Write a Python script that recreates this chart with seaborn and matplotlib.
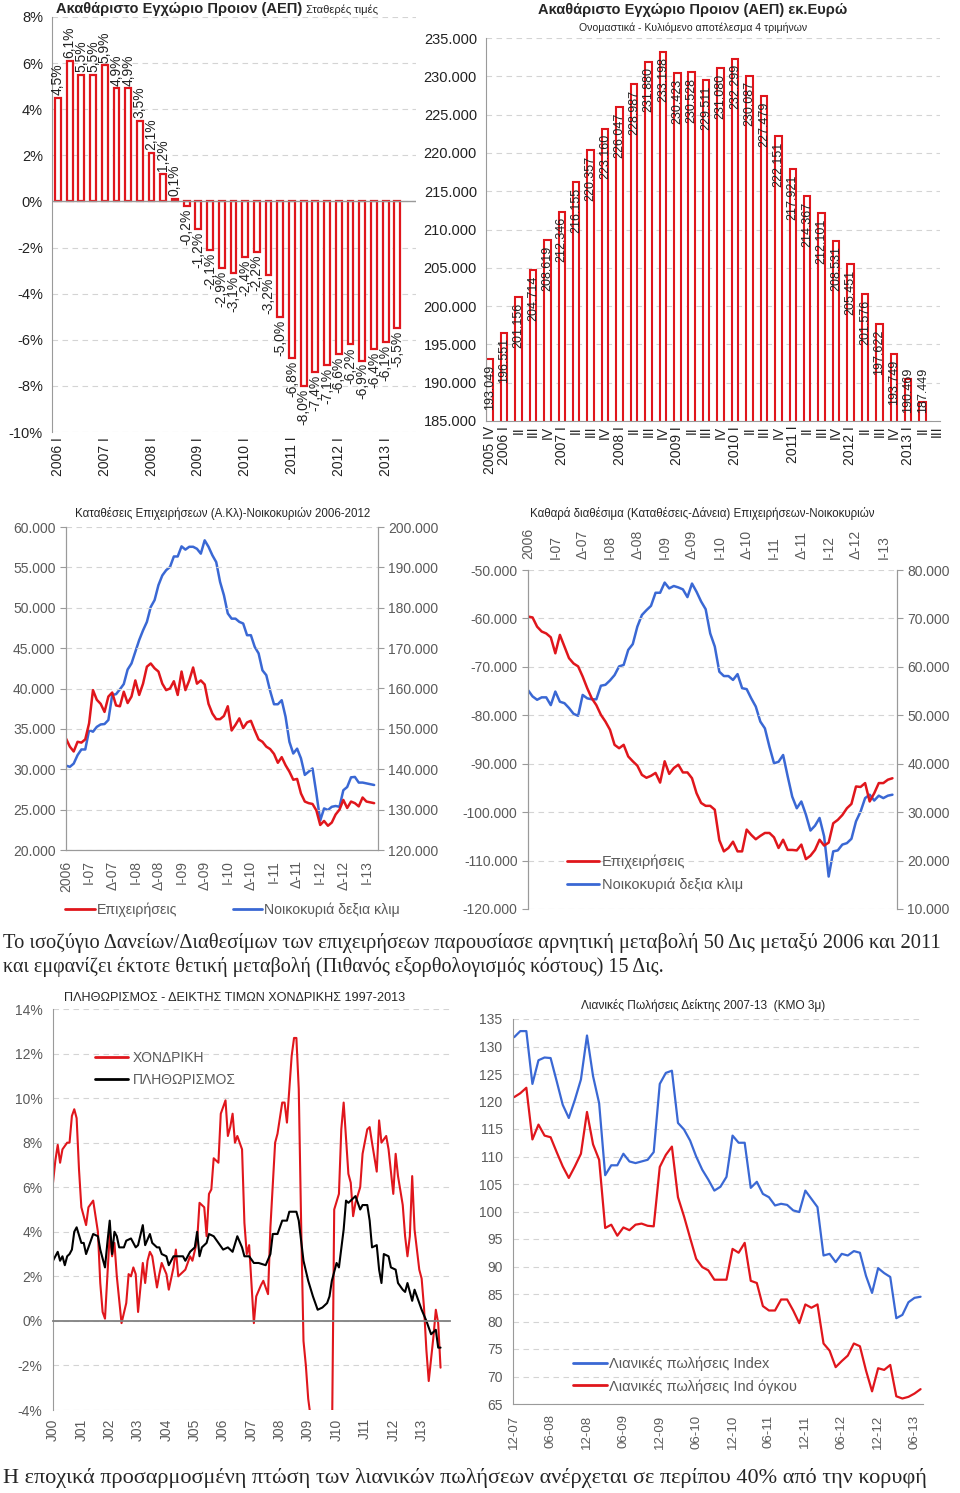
import numpy as np
import pandas as pd
import matplotlib
matplotlib.use('Agg')
import matplotlib.pyplot as plt
from matplotlib.ticker import FuncFormatter
from matplotlib.lines import Line2D
import seaborn as sns

# --- top left: real GDP growth (% y/y), 2006 I - 2013 II
gdp_growth = [4.5, 6.1, 5.5, 5.5, 5.9, 4.9, 4.9, 3.5, 2.1, 1.2, 0.1, -0.2, -1.2, -2.1, -2.9,
              -3.1, -2.4, -2.2, -3.2, -5.0, -6.8, -8.0, -7.4, -7.1, -6.6, -6.2, -6.9, -6.4,
              -6.1, -5.5]
gdp_years = ['2006 I', '2007 I', '2008 I', '2009 I', '2010 I', '2011 I', '2012 I', '2013 I']

# --- top right: nominal GDP, rolling 4 quarters (mn euro), 2005 IV - 2013 II
gdp_nominal = [193049, 196551, 201156, 204714, 208619, 212346, 216155, 220357, 223160, 226047,
               228987, 231880, 233198, 230423, 230528, 229511, 231080, 232299, 230087, 227479,
               222151, 217921, 214367, 212101, 208531, 205451, 201576, 197622, 193749, 190469,
               187449]
nominal_cats = ['2005 IV',
                '2006 I', 'II', 'III', 'IV', '2007 I', 'II', 'III', 'IV',
                '2008 I', 'II', 'III', 'IV', '2009 I', 'II', 'III', 'IV',
                '2010 I', 'II', 'III', 'IV', '2011 I', 'II', 'III', 'IV',
                '2012 I', 'II', 'III', 'IV', '2013 I', 'II', 'III']

# --- middle: deposits / net deposits, monthly from Dec 2006 (thousands mn euro)
dep_firms = [33.8, 32.8, 32.2, 33.4, 33.3, 33.7, 35.7, 39.8, 38.6, 38.1, 37.1, 39.0, 39.5, 37.9,
             37.8, 39.6, 38.2, 39.0, 41.0, 39.2, 40.6, 42.7, 43.1, 42.5, 42.1, 40.6, 39.8, 40.0,
             40.9, 39.2, 42.1, 39.8, 41.0, 42.6, 40.6, 41.0, 40.5, 38.1, 36.9, 36.2, 36.2, 36.6,
             37.8, 34.8, 35.5, 36.3, 35.1, 35.8, 36.0, 34.8, 33.7, 33.4, 32.8, 32.5, 31.9, 30.8,
             31.5, 30.5, 29.7, 28.7, 28.8, 27.0, 26.0, 25.8, 25.7, 24.9, 23.1, 23.6, 23.0, 23.4,
             24.4, 25.0, 26.2, 25.2, 26.0, 25.8, 25.4, 26.5, 26.0, 25.9, 25.8]
dep_households = [140.9, 140.6, 141.4, 143.5, 144.9, 144.9, 149.7, 149.3, 150.5, 151.1, 151.2,
                  152.2, 158.4, 158.6, 159.8, 161.1, 164.7, 166.2, 169.1, 172.0, 174.4, 176.5,
                  180.2, 181.9, 185.6, 188.0, 189.3, 190.1, 192.7, 192.7, 195.2, 194.4, 195.1,
                  195.1, 194.6, 193.4, 196.7, 195.1, 193.0, 191.3, 186.4, 183.1, 178.6, 177.3,
                  177.3, 176.5, 176.1, 173.2, 173.2, 170.3, 168.7, 164.5, 163.3, 159.4, 156.1,
                  156.1, 157.1, 153.0, 146.8, 143.9, 145.1, 142.7, 138.6, 139.4, 140.2, 134.0,
                  127.3, 130.3, 129.9, 130.7, 130.9, 130.7, 134.8, 135.6, 138.0, 138.1, 136.7,
                  136.7, 136.5, 136.3, 136.1]
net_firms = [-59.6, -59.8, -61.7, -62.7, -63.1, -63.9, -67.2, -63.4, -65.8, -68.2, -69.3, -69.9,
             -72.0, -74.4, -76.5, -77.9, -79.9, -81.3, -83.0, -86.1, -86.8, -86.1, -88.5, -89.5,
             -90.4, -92.3, -92.9, -92.5, -91.9, -93.9, -89.5, -92.1, -90.9, -90.2, -91.8, -91.8,
             -93.0, -96.1, -98.1, -98.7, -98.7, -99.5, -105.8, -108.1, -107.4, -106.1, -108.1,
             -108.1, -103.6, -104.7, -105.6, -104.9, -104.3, -104.3, -105.2, -107.4, -105.7,
             -107.8, -107.8, -107.9, -106.7, -109.7, -109.0, -107.8, -105.7, -106.9, -106.3,
             -102.3, -101.6, -100.6, -99.2, -98.3, -94.7, -94.8, -94.0, -97.8, -96.1, -94.0,
             -94.0, -93.3, -93.0]
net_households = [55.2, 53.9, 53.2, 53.7, 53.7, 52.1, 54.9, 52.8, 52.5, 51.5, 50.3, 49.9, 54.2,
                  53.5, 53.3, 53.3, 56.1, 56.3, 57.2, 58.3, 60.1, 60.4, 63.5, 64.7, 68.3, 70.7,
                  71.7, 72.6, 75.3, 75.3, 77.4, 76.2, 76.7, 76.4, 76.0, 74.4, 77.2, 75.5, 73.5,
                  71.9, 66.9, 64.2, 59.0, 58.1, 58.1, 57.3, 58.5, 55.6, 55.4, 53.5, 51.8, 48.7,
                  47.3, 43.5, 40.1, 40.4, 41.8, 37.4, 33.2, 30.8, 32.2, 29.5, 26.2, 27.2, 28.8,
                  25.0, 16.7, 21.9, 22.1, 23.3, 23.6, 24.5, 28.1, 30.1, 32.9, 33.6, 32.4, 33.4,
                  32.9, 33.4, 33.6]
half_year_labels = ['2006', 'Ι-07', 'Δ-07', 'Ι-08', 'Δ-08', 'Ι-09', 'Δ-09', 'Ι-10', 'Δ-10',
                    'Ι-11', 'Δ-11', 'Ι-12', 'Δ-12', 'Ι-13']

# --- bottom left: inflation vs wholesale prices (months since Jan 2000, %)
whole_month = [0, 1, 2, 3, 4, 6, 7, 8, 9, 10, 11, 12, 14, 15, 17, 19, 20, 21, 22, 24, 25, 26, 27,
               29, 31, 32, 33, 34, 35, 36, 38, 39, 40, 41, 42, 44, 45, 46, 48, 49, 51, 52, 53, 55,
               56, 58, 59, 61, 62, 64, 65, 66, 67, 68, 70, 71, 73, 74, 75, 76, 77, 78, 80, 81, 82,
               83, 85, 86, 88, 89, 91, 92, 94, 95, 97, 98, 99, 100, 101, 102, 103, 104, 105, 106,
               107, 108, 109, 111, 114, 116, 118, 119, 121, 122, 123, 125, 126, 127, 128, 130,
               131, 133, 134, 135, 137, 138, 139, 141, 142, 144, 145, 146, 148, 149, 150, 151,
               152, 153, 155, 156, 157, 158, 159, 161, 162, 163, 164]
whole_val = [6.2, 7.2, 7.9, 7.1, 7.7, 8.0, 8.0, 9.2, 9.5, 9.1, 6.8, 5.1, 4.3, 5.1, 5.4, 4.0, 1.7,
             0.4, 0.1, 3.9, 2.9, 3.5, 2.0, -0.1, 0.8, 2.1, 2.0, 2.4, 2.1, 0.4, 2.6, 1.7, 2.7, 3.1,
             2.9, 1.5, 2.1, 2.6, 2.1, 1.4, 2.4, 3.2, 2.0, 2.2, 2.3, 2.9, 2.7, 3.6, 5.3, 5.1, 3.8,
             5.7, 5.9, 7.3, 7.1, 9.3, 9.9, 8.3, 8.7, 9.3, 8.0, 8.3, 7.7, 4.4, 3.0, 3.4, -0.1, 1.1,
             1.6, 1.8, 1.2, 4.2, 8.0, 8.4, 9.8, 9.8, 8.9, 10.4, 11.9, 12.7, 12.7, 10.4, 4.4, -0.9,
             -2.0, -3.5, -4.3, -7.0, -8.0, -7.0, -6.0, 5.0, 5.7, 8.6, 9.8, 6.6, 6.2, 4.7, 5.3,
             6.0, 7.5, 8.6, 8.7, 8.0, 6.7, 9.0, 8.0, 8.3, 7.7, 5.7, 7.5, 6.5, 5.2, 3.8, 2.9, 3.8,
             6.5, 4.1, 2.3, 1.9, 0.6, -1.3, -2.7, -0.7, 0.5, -0.1, -2.1]
cpi_month = [0, 1, 2, 3, 4, 5, 6, 7, 8, 9, 10, 12, 13, 14, 16, 17, 19, 20, 22, 23, 24, 25, 26, 27,
             28, 30, 31, 33, 35, 36, 38, 39, 41, 42, 44, 45, 46, 48, 49, 51, 53, 55, 56, 58, 60,
             61, 62, 63, 65, 66, 68, 70, 72, 74, 76, 78, 80, 81, 83, 85, 87, 90, 92, 93, 95, 97,
             99, 100, 103, 104, 106, 108, 110, 112, 114, 116, 117, 118, 120, 121, 123, 124, 125,
             127, 128, 130, 131, 133, 134, 135, 137, 138, 139, 140, 142, 143, 145, 146, 148, 149,
             150, 152, 153, 155, 156, 158, 159, 160, 162, 163, 164]
cpi_val = [2.7, 2.9, 3.1, 2.7, 2.9, 2.5, 2.9, 3.0, 3.2, 4.0, 4.2, 3.5, 3.5, 3.0, 3.6, 3.9, 3.8,
           3.2, 2.4, 3.5, 4.5, 3.0, 4.0, 3.8, 3.3, 3.3, 3.6, 3.7, 3.3, 3.4, 4.3, 3.4, 3.9, 3.5,
           3.3, 3.3, 3.0, 2.9, 2.5, 2.9, 2.9, 2.9, 2.7, 3.1, 3.3, 4.0, 2.9, 3.3, 3.5, 3.9, 3.8,
           3.5, 3.2, 3.3, 3.1, 3.8, 3.3, 2.9, 2.9, 2.6, 2.6, 2.5, 3.0, 3.9, 3.9, 4.5, 4.5, 4.9,
           4.9, 4.5, 2.7, 1.8, 1.1, 0.5, 0.6, 0.8, 1.1, 1.8, 2.6, 2.4, 4.1, 5.4, 5.3, 5.5, 5.6,
           5.0, 5.2, 5.2, 4.5, 3.3, 3.4, 2.3, 1.7, 3.0, 2.9, 2.4, 2.3, 1.7, 1.4, 1.3, 1.7, 0.9,
           1.4, 0.8, 0.5, 0.0, -0.3, -0.6, -0.4, -1.2, -1.2]
year_labels = ['J00', 'J01', 'J02', 'J03', 'J04', 'J05', 'J06', 'J07', 'J08', 'J09', 'J10',
               'J11', 'J12', 'J13']

# --- bottom right: retail sales indices, monthly Dec 2007 - Jul 2013
retail_index = [131.7, 132.8, 132.8, 123.2, 127.5, 128.0, 127.9, 123.7, 119.4, 117.0, 120.3,
                124.0, 132.0, 124.6, 119.7, 106.6, 108.4, 108.4, 110.5, 109.1, 108.8, 109.1,
                109.4, 110.8, 123.2, 125.2, 125.6, 116.1, 114.9, 112.9, 110.0, 107.6, 105.8,
                103.8, 104.5, 106.3, 113.8, 112.5, 112.5, 104.3, 105.4, 103.2, 102.6, 101.1,
                101.4, 101.2, 100.2, 99.9, 103.8, 102.3, 100.8, 92.0, 92.3, 90.8, 92.3, 92.0,
                92.8, 92.5, 88.3, 85.2, 89.7, 88.8, 88.1, 80.6, 81.2, 83.5, 84.3, 84.5]
retail_volume = [120.8, 121.5, 122.5, 113.1, 115.8, 113.8, 113.5, 110.8, 108.2, 106.1, 108.2,
                 110.5, 118.1, 112.2, 109.4, 97.0, 97.6, 95.6, 97.1, 96.6, 97.6, 97.8, 97.4, 97.3,
                 108.1, 110.3, 111.8, 102.6, 99.1, 95.2, 91.4, 89.9, 89.3, 87.6, 87.6, 87.6,
                 93.2, 92.5, 94.3, 87.4, 87.0, 82.8, 82.0, 82.0, 84.0, 84.0, 82.0, 79.7, 83.1,
                 82.5, 83.1, 76.0, 74.7, 71.7, 72.8, 73.8, 76.0, 75.5, 71.1, 67.3, 71.5, 71.2,
                 72.1, 66.4, 66.0, 66.3, 66.9, 67.7]
retail_labels = ['12-07', '06-08', '12-08', '06-09', '12-09', '06-10', '12-10', '06-11',
                 '12-11', '06-12', '12-12', '06-13']

sns.set_style('white')
plt.rcParams['font.family'] = ['Liberation Sans', 'DejaVu Sans']
SERIF = ['Liberation Serif', 'DejaVu Serif']

RED = '#e0161c'
BLUE = '#3a68d4'
GRID = '#d4d4d4'
AXC = '#9a9a9a'
TXT = '#5a5a5a'

W, H = 960, 1493
fig = plt.figure(figsize=(9.6, 14.93), dpi=100)


def box(l, t, r, b):
    return [l / W, 1 - b / H, (r - l) / W, (b - t) / H]


def fx(px):
    return px / W


def fy(py):
    return 1 - py / H


def thou(v, pos=None):
    return f"{v:,.0f}".replace(',', '.')


def style_axes(ax, color):
    for s in ax.spines.values():
        s.set_color(AXC)
    ax.spines['top'].set_visible(False)
    ax.grid(axis='y', color=GRID, linestyle=(0, (5, 4)), linewidth=0.8)
    ax.grid(axis='x', visible=False)
    ax.tick_params(colors=AXC, labelcolor=color, labelsize=10)


# ---------------- top left
ax1 = fig.add_axes(box(52, 17, 416, 432))
sns.barplot(x=list(range(len(gdp_growth))), y=gdp_growth, ax=ax1, color='white',
            edgecolor=RED, linewidth=1.6, width=0.5, saturation=1)
style_axes(ax1, '#222222')
ax1.spines['right'].set_visible(False)
ax1.spines['bottom'].set_visible(False)
ax1.axhline(0, color=AXC, lw=1)
ax1.set_ylim(-10, 8)
ax1.set_yticks(range(-10, 9, 2))
ax1.yaxis.set_major_formatter(FuncFormatter(lambda v, p: f"{v:.0f}%"))
ax1.set_xticks(range(0, 30, 4))
ax1.set_xticklabels(gdp_years, rotation=90)
ax1.tick_params(axis='x', length=0)
ax1.tick_params(axis='y', length=3, labelsize=10.5)
ax1.set_xlim(-0.51, 30.6)
ax1.set_xlabel('')
for i, v in enumerate(gdp_growth):
    ax1.annotate(f"{v:.1f}%".replace('.', ','), (i, v), xytext=(0, 2 if v >= 0 else -2),
                 textcoords='offset points', rotation=90, ha='center',
                 va='bottom' if v >= 0 else 'top', fontsize=10, color='#222222')
fig.text(fx(56), fy(9), 'Ακαθάριστο Εγχώριο Προιον (ΑΕΠ)', fontsize=10.5,
         fontweight='bold', va='center', ha='left')
fig.text(fx(306), fy(10), 'Σταθερές τιμές', fontsize=8, va='center', ha='left')

# ---------------- top right
ax2 = fig.add_axes(box(486, 38, 940, 421))
sns.barplot(x=list(range(len(gdp_nominal))), y=gdp_nominal, ax=ax2, color='white',
            edgecolor=RED, linewidth=1.5, width=0.45, saturation=1)
style_axes(ax2, '#222222')
ax2.spines['right'].set_visible(False)
ax2.set_ylim(185000, 235000)
ax2.set_yticks(range(185000, 235001, 5000))
ax2.yaxis.set_major_formatter(FuncFormatter(thou))
ax2.set_xticks(range(len(nominal_cats)))
ax2.set_xticklabels(nominal_cats, rotation=90)
ax2.set_xlim(-0.25, 31.2)
ax2.tick_params(axis='x', length=0)
ax2.tick_params(axis='y', length=3, labelsize=10.5)
for i, v in enumerate(gdp_nominal):
    if v > 192800:
        ax2.annotate(thou(v), (i, v), xytext=(0, -4), textcoords='offset points', rotation=90,
                     ha='center', va='top', fontsize=9, color='#222222')
    else:
        # too short for an inside label: keep it inside the plot area
        ax2.annotate(thou(v), (i, 185000), xytext=(0, 6), textcoords='offset points',
                     rotation=90, ha='center', va='bottom', fontsize=9, color='#222222')
fig.text(fx(693), fy(10), 'Ακαθάριστο Εγχώριο Προιον (ΑΕΠ) εκ.Ευρώ', fontsize=10.5,
         fontweight='bold', ha='center', va='center')
fig.text(fx(693), fy(28), 'Ονομαστικά - Κυλιόμενο αποτέλεσμα 4 τριμήνων', fontsize=7.6,
         ha='center', va='center')

# ---------------- middle left
ax3 = fig.add_axes(box(66, 527, 378, 850))
ax3b = ax3.twinx()
sns.lineplot(x=np.arange(len(dep_firms)), y=np.array(dep_firms) * 1000, ax=ax3, color=RED, lw=1.8)
sns.lineplot(x=np.arange(len(dep_households)), y=np.array(dep_households) * 1000, ax=ax3b,
             color=BLUE, lw=1.8)
style_axes(ax3, TXT)
for s in ax3b.spines.values():
    s.set_color(AXC)
ax3b.spines['top'].set_visible(False)
ax3b.tick_params(colors=AXC, labelcolor=TXT, labelsize=10)
ax3.set_xlim(0, 81)
ax3.set_ylim(20000, 60000)
ax3b.set_ylim(120000, 200000)
ax3.yaxis.set_major_formatter(FuncFormatter(thou))
ax3b.yaxis.set_major_formatter(FuncFormatter(thou))
ax3.set_xticks(range(0, 79, 6))
ax3.set_xticklabels(half_year_labels, rotation=90)
ax3.tick_params(length=4)
ax3b.tick_params(length=4)
ax3.set_zorder(ax3b.get_zorder() + 1)
ax3.patch.set_visible(False)
fig.text(fx(223), fy(513), 'Καταθέσεις Επιχειρήσεων (Α.Κλ)-Νοικοκυριών 2006-2012', fontsize=8.3,
         ha='center', va='center')
fig.legend([Line2D([], [], color=RED, lw=2), Line2D([], [], color=BLUE, lw=2)],
           ['Επιχειρήσεις', 'Νοικοκυριά δεξια κλιμ'], loc='center left',
           bbox_to_anchor=(fx(65), fy(910)), ncol=2, frameon=False, fontsize=10.2,
           labelcolor=TXT, handlelength=2.1, handletextpad=0.15, columnspacing=3.9,
           borderpad=0, borderaxespad=0)

# ---------------- middle right
ax4 = fig.add_axes(box(528, 570, 897, 909))
ax4b = ax4.twinx()
sns.lineplot(x=np.arange(len(net_firms)), y=np.array(net_firms) * 1000, ax=ax4, color=RED, lw=1.8)
sns.lineplot(x=np.arange(len(net_households)), y=np.array(net_households) * 1000, ax=ax4b,
             color=BLUE, lw=1.8)
style_axes(ax4, TXT)
ax4.spines['bottom'].set_visible(False)
for s in ax4b.spines.values():
    s.set_color(AXC)
ax4b.spines['top'].set_visible(False)
ax4b.spines['bottom'].set_visible(False)
ax4b.tick_params(colors=AXC, labelcolor=TXT, labelsize=10, length=4)
ax4.set_xlim(0, 81)
ax4.set_ylim(-120000, -50000)
ax4b.set_ylim(10000, 80000)
ax4.yaxis.set_major_formatter(FuncFormatter(thou))
ax4b.yaxis.set_major_formatter(FuncFormatter(thou))
ax4.xaxis.tick_top()
ax4.set_xticks(range(0, 79, 6))
ax4.set_xticklabels(half_year_labels, rotation=90)
ax4.tick_params(axis='x', length=0, labeltop=True, labelbottom=False, pad=8)
ax4.tick_params(axis='y', length=4)
ax4.set_zorder(ax4b.get_zorder() + 1)
ax4.patch.set_visible(False)
fig.text(fx(702), fy(513), 'Καθαρά διαθέσιμα (Καταθέσεις-Δάνεια) Επιχειρήσεων-Νοικοκυριών',
         fontsize=8.3, ha='center', va='center')
fig.legend([Line2D([], [], color=RED, lw=2), Line2D([], [], color=BLUE, lw=2)],
           ['Επιχειρήσεις', 'Νοικοκυριά δεξια κλιμ'], loc='center left',
           bbox_to_anchor=(fx(567), fy(873)), frameon=False, fontsize=10.5, labelcolor=TXT,
           handlelength=2.2, handletextpad=0.2, labelspacing=0.6, borderpad=0,
           borderaxespad=0)

# ---------------- paragraph
fig.text(fx(3), fy(943), 'Το ισοζύγιο Δανείων/Διαθεσίμων των επιχειρήσεων παρουσίασε αρνητική '
         'μεταβολή 50 Δις μεταξύ 2006 και 2011', fontsize=14.8, family=SERIF, va='center')
fig.text(fx(3), fy(967), 'και εμφανίζει έκτοτε θετική μεταβολή (Πιθανός εξορθολογισμός '
         'κόστους) 15 Δις.', fontsize=14.5, family=SERIF, va='center')

# ---------------- bottom left
ax5 = fig.add_axes(box(53, 1009, 450, 1410))
sns.lineplot(x=whole_month, y=whole_val, ax=ax5, color=RED, lw=1.5)
sns.lineplot(x=cpi_month, y=cpi_val, ax=ax5, color='black', lw=1.5)
style_axes(ax5, TXT)
ax5.spines['right'].set_visible(False)
ax5.spines['bottom'].set_position(('data', 0))
ax5.spines['bottom'].set_color('#808080')
ax5.spines['bottom'].set_linewidth(1.3)
ax5.set_xlim(0, 168)
ax5.set_ylim(-4, 14)
ax5.set_yticks(range(-4, 15, 2))
ax5.yaxis.set_major_formatter(FuncFormatter(lambda v, p: f"{v:.0f}%"))
ax5.set_xticks(range(0, 168, 6))
ax5.tick_params(axis='x', labelbottom=False, length=5, color='#808080')
ax5.tick_params(axis='y', length=4)
sec5 = ax5.secondary_xaxis('bottom')
sec5.set_xticks(range(0, 157, 12))
sec5.set_xticklabels(year_labels, rotation=90)
sec5.tick_params(length=0, labelcolor=TXT, labelsize=10, pad=6)
sec5.spines['bottom'].set_visible(False)
fig.text(fx(235), fy(998), 'ΠΛΗΘΩΡΙΣΜΟΣ - ΔΕΙΚΤΗΣ ΤΙΜΩΝ ΧΟΝΔΡΙΚΗΣ 1997-2013', fontsize=9.1,
         ha='center', va='center')
fig.legend([Line2D([], [], color=RED, lw=2), Line2D([], [], color='black', lw=2)],
           ['ΧΟΝΔΡΙΚΗ', 'ΠΛΗΘΩΡΙΣΜΟΣ'], loc='center left', bbox_to_anchor=(fx(95), fy(1069)),
           frameon=False, fontsize=10, labelcolor=TXT, handlelength=2.4, handletextpad=0.3,
           labelspacing=0.6, borderpad=0, borderaxespad=0)

# ---------------- bottom right
ax6 = fig.add_axes(box(513, 1019, 923, 1404))
sns.lineplot(x=np.arange(len(retail_index)), y=retail_index, ax=ax6, color=BLUE, lw=1.6)
sns.lineplot(x=np.arange(len(retail_volume)), y=retail_volume, ax=ax6, color=RED, lw=1.6)
style_axes(ax6, TXT)
ax6.spines['right'].set_visible(False)
ax6.set_xlim(-0.2, 67.4)
ax6.set_ylim(65, 135)
ax6.set_yticks(range(65, 136, 5))
ax6.set_xticks(range(0, 67, 6))
ax6.set_xticklabels(retail_labels, rotation=90)
ax6.tick_params(length=4)
ax6.tick_params(axis='x', labelsize=9.5)
fig.text(fx(703), fy(1005), 'Λιανικές Πωλήσεις Δείκτης 2007-13  (ΚΜΟ 3μ)', fontsize=8.6,
         ha='center', va='center')
fig.legend([Line2D([], [], color=BLUE, lw=2), Line2D([], [], color=RED, lw=2)],
           ['Λιανικές πωλήσεις Index', 'Λιανικές πωλήσεις Ind όγκου'], loc='center left',
           bbox_to_anchor=(fx(573), fy(1375)), frameon=False, fontsize=10.5, labelcolor=TXT,
           handlelength=2.3, handletextpad=0.2, labelspacing=0.55, borderpad=0,
           borderaxespad=0)

fig.text(fx(3), fy(1478), 'Η εποχικά προσαρμοσμένη πτώση των λιανικών πωλήσεων ανέρχεται σε '
         'περίπου 40% από την κορυφή', fontsize=16, family=SERIF, va='center')

fig.savefig('out.png', dpi=100)
